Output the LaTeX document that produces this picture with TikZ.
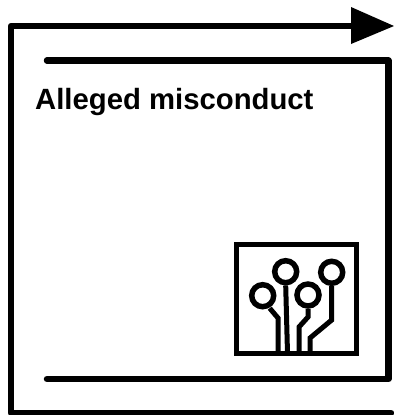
\documentclass[tikz,border=0pt]{standalone}
\usepackage{fontspec}
\setmainfont{Liberation Sans}
\usetikzlibrary{arrows.meta}
\tikzset{
  x=1bp,y=-1bp,
  heavy/.style={line width=6.5bp,line join=round,black},
  trace/.style={line width=5bp,line join=miter,black},
  pad/.style={draw=black,line width=5.5bp,circle,minimum size=22bp,inner sep=0pt,fill=white},
  frame/.style={draw=black,line width=5bp,minimum width=119bp,minimum height=109bp,inner sep=0pt},
  label/.style={font=\bfseries\fontsize{29.4}{34}\selectfont,anchor=base west,inner sep=0pt,text=black}
}
\begin{document}
\begin{tikzpicture}
\useasboundingbox (0,0) rectangle (394,415);
\coordinate (outerEnd) at (391,413);
\coordinate (outerBL) at (11,413);
\coordinate (outerTL) at (11,26);
\coordinate (tip) at (394,26);
\coordinate (innerStart) at (47,60.5);
\coordinate (innerTR) at (388.5,60.5);
\coordinate (innerBR) at (388.5,379);
\coordinate (innerEnd) at (47,379);
\draw[heavy,line cap=round] (outerEnd) -- (outerBL) -- (outerTL) -- (352,26);
\fill[black] (351,7) -- (tip) -- (351,44) -- cycle;
\draw[heavy,line cap=round] (innerStart) -- (innerTR) -- (innerBR) -- (innerEnd);
\node[label] (title) at (35,109) {Alleged misconduct};
\node[frame] (chip) at (296.5,298.5) {};
\coordinate (t1) at (278,353);
\coordinate (t2) at (287.5,353);
\coordinate (t3) at (299,353);
\coordinate (t4) at (310,353);
\node[pad] (p1) at (285.7,271.7) {};
\node[pad] (p2) at (262.7,295.7) {};
\node[pad] (p3) at (308,295) {};
\node[pad] (p4) at (331.7,272.3) {};
\draw[trace] (p2) ++(7,12.5) -- (278,318) -- (t1);
\draw[trace] (p1.south) -- (t2);
\draw[trace] (p3.south) -- (308,317) -- (299,327) -- (t3);
\draw[trace] (p4.south) -- (331.7,320) -- (310,338) -- (t4);
\end{tikzpicture}
\end{document}
